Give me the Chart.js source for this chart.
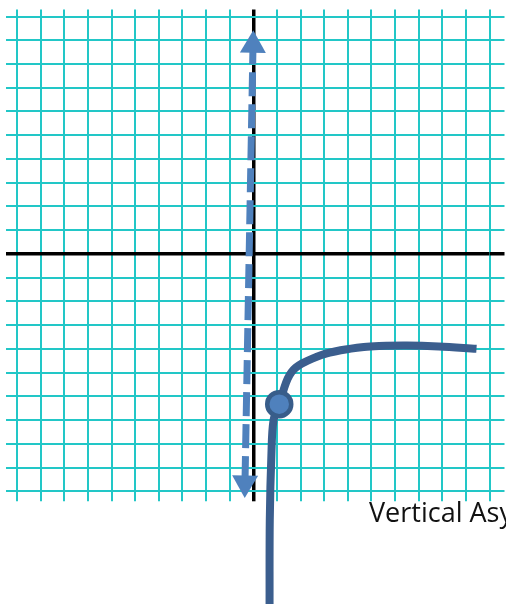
<!DOCTYPE html>
<html>
<head>
<meta charset="utf-8">
<script src="https://cdn.jsdelivr.net/npm/chart.js@4"></script>
<style>
  html, body { margin: 0; padding: 0; background: #fff; }
  canvas { display: block; }
</style>
</head>
<body>
<canvas id="grafico" width="506" height="604"></canvas>
<script>
// grid range (one unit = one square)
const axisMin = -10;
const axisMax = 10;

// the curve that approaches the asymptote
const curveX = [0.69, 0.70, 0.77, 0.86, 1.10, 1.31, 1.46, 1.62, 1.80, 2.05, 2.86, 3.70, 4.68, 5.32, 6.50, 7.85, 9.45];
const curveY = [-15.0, -11.2, -8.4, -7.0, -6.33, -5.65, -5.25, -4.98, -4.79, -4.62, -4.27, -4.06, -3.92, -3.88, -3.86, -3.90, -4.0];

// marked point on the curve
const markX = [1.10];
const markY = [-6.33];

// dashed vertical asymptote (arrow ends)
const asymX = [-0.01, -0.35];
const asymY = [8.79, -9.65];

// label under the grid
const labelText = 'Vertical Asymptote';
const labelPos = [4.9, -11.3];

const cyan = '#22c7c7';
const toPts = (xs, ys) => xs.map((x, i) => ({ x: x, y: ys[i] }));

const gridColor = c => (c.tick && c.tick.value === 0 ? '#000' : cyan);
const gridWidth = c => (c.tick && c.tick.value === 0 ? 3.5 : 2);

function axis(position, tickLength, onArea) {
  return {
    type: 'linear',
    position: position,
    min: axisMin,
    max: axisMax,
    ticks: { display: false, stepSize: 1 },
    border: { display: false },
    grid: {
      drawOnChartArea: onArea,
      drawTicks: true,
      tickLength: tickLength,
      color: gridColor,
      lineWidth: gridWidth,
      tickColor: gridColor,
      tickWidth: gridWidth
    }
  };
}

const labelPlugin = {
  id: 'asymLabel',
  afterDraw(chart) {
    const { ctx, scales } = chart;
    ctx.save();
    ctx.font = '27px "Open Sans", sans-serif';
    ctx.fillStyle = '#111';
    ctx.textBaseline = 'alphabetic';
    ctx.fillText(labelText, scales.x.getPixelForValue(labelPos[0]), scales.y.getPixelForValue(labelPos[1]));
    ctx.restore();
  }
};

new Chart(document.getElementById('grafico'), {
  type: 'line',
  data: {
    datasets: [
      {
        data: toPts(markX, markY),
        showLine: false,
        pointRadius: 12,
        pointBackgroundColor: '#4f81bd',
        pointBorderColor: '#385d8a',
        pointBorderWidth: 4.5,
        clip: false
      },
      {
        data: toPts(curveX, curveY),
        borderColor: '#3b5e8e',
        borderWidth: 8,
        tension: 0.35,
        pointRadius: 0,
        borderCapStyle: 'butt',
        clip: false
      },
      {
        data: toPts(asymX, asymY),
        borderColor: '#4f81bd',
        borderWidth: 7,
        borderDash: [24, 8],
        borderDashOffset: 5,
        borderCapStyle: 'butt',
        pointStyle: 'triangle',
        pointRadius: 15,
        pointRotation: [1, 181],
        pointBackgroundColor: '#4f81bd',
        pointBorderWidth: 0,
        clip: false
      }
    ]
  },
  options: {
    responsive: false,
    animation: false,
    layout: { padding: { left: 6, right: 0, top: 8.3, bottom: 102.7 } },
    plugins: {
      legend: { display: false },
      tooltip: { enabled: false }
    },
    scales: {
      x: axis('bottom', 10, true),
      x2: axis('top', 7, false),
      y: axis('left', 11, true),
      y2: axis('right', 15, false)
    }
  },
  plugins: [labelPlugin]
});
</script>
</body>
</html>
